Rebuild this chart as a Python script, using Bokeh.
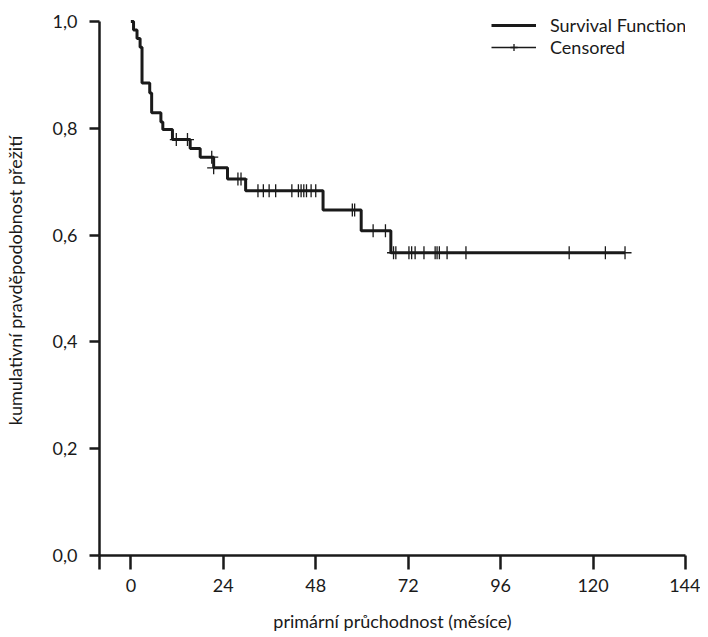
import numpy as np
from bokeh.plotting import figure
from bokeh.models import FixedTicker, Legend, LegendItem, ColumnDataSource, Range1d
from bokeh.embed import file_html
from bokeh.resources import INLINE

# ---- data (Kaplan-Meier curve) ----
event_times = [0.0, 0.7, 1.6, 2.4, 2.9, 4.9, 5.4, 7.8, 8.3, 10.8, 15.4, 18.0,
               21.5, 25.1, 29.8, 49.9, 59.8, 67.5]
survival = [1.0, 0.984, 0.968, 0.952, 0.885, 0.866, 0.829, 0.812, 0.798, 0.779,
            0.762, 0.746, 0.726, 0.705, 0.683, 0.647, 0.608, 0.567]
last_followup = 128.3
censored_times = [11.8, 14.7, 21.0, 21.5, 27.8, 28.6, 33.0, 34.4, 35.9, 37.6,
                  41.8, 43.5, 44.2, 44.9, 45.6, 46.8, 48.0, 57.5, 58.1, 62.9,
                  66.1, 68.2, 68.8, 72.2, 72.9, 73.8, 76.1, 79.0, 79.5, 80.1,
                  82.1, 87.0, 113.8, 123.2, 128.3]

x_ticks = [0, 24, 48, 72, 96, 120, 144]
y_ticks = [0.0, 0.2, 0.4, 0.6, 0.8, 1.0]
y_tick_labels = ["0,0", "0,2", "0,4", "0,6", "0,8", "1,0"]
x_label = "primární průchodnost (měsíce)"
y_label = "kumulativní pravděpodobnost přežití"
legend_labels = ["Survival Function", "Censored"]

# ---- styling ----
FONT = "Lato"
INK = "#1a1a1a"
X_START, X_END = -8.14, 144
Y_START, Y_END = 0.0, 1.03

step_src = ColumnDataSource(dict(t=event_times + [last_followup],
                                 s=survival + [survival[-1]]))
idx = np.searchsorted(np.array(event_times), np.array(censored_times), side="right") - 1
cens_src = ColumnDataSource(dict(t=censored_times, s=[survival[i] for i in idx]))

p = figure(width=700, height=635,
           x_range=Range1d(X_START, X_END), y_range=Range1d(Y_START, Y_END),
           output_backend="svg", toolbar_location=None,
           min_border_left=99, min_border_right=15, min_border_top=5,
           min_border_bottom=80)
p.grid.visible = False
p.outline_line_color = None
p.background_fill_color = "white"

step_r = p.step(x="t", y="s", source=step_src, mode="after",
                line_width=3, line_color=INK)
cens_r = p.scatter(x="t", y="s", source=cens_src, marker="cross", size=13,
                   line_width=1.3, line_color=INK)
# zero-length segments at the censored points: invisible in the plot,
# but give the "Censored" legend entry its thin horizontal line
cens_line = p.segment(x0="t", y0="s", x1="t", y1="s", source=cens_src,
                      line_width=1.3, line_color=INK, line_cap="butt")

# axes
p.xaxis.ticker = FixedTicker(ticks=[X_START] + x_ticks)
p.xaxis.major_label_overrides = {X_START: ""}
p.yaxis.ticker = FixedTicker(ticks=y_ticks)
p.yaxis.major_label_overrides = {t: l for t, l in zip(y_ticks, y_tick_labels)}
p.yaxis.bounds = (y_ticks[0], y_ticks[-1])
p.xaxis.axis_label = x_label
p.yaxis.axis_label = y_label
for ax in (p.xaxis, p.yaxis):
    ax.axis_line_width = 2.5
    ax.axis_line_color = INK
    ax.major_tick_line_width = 2.5
    ax.major_tick_line_color = INK
    ax.minor_tick_line_color = None
    ax.major_tick_in = 0
    ax.major_label_text_font = FONT
    ax.major_label_text_font_size = "18px"
    ax.major_label_text_color = INK
    ax.axis_label_text_font = FONT
    ax.axis_label_text_font_size = "18px"
    ax.axis_label_text_font_style = "normal"
    ax.axis_label_text_color = INK
p.xaxis.major_tick_out = 14
p.yaxis.major_tick_out = 10
p.xaxis.major_label_standoff = 9
p.yaxis.major_label_standoff = 12
p.xaxis.axis_label_standoff = 15
p.yaxis.axis_label_standoff = 24

legend = Legend(items=[LegendItem(label=legend_labels[0], renderers=[step_r]),
                       LegendItem(label=legend_labels[1], renderers=[cens_line, cens_r])],
                location=(392, 497.5), padding=0, margin=0, spacing=0,
                glyph_width=45, glyph_height=18, label_height=18, label_standoff=14,
                label_text_font=FONT, label_text_font_size="18px",
                label_text_color=INK, border_line_color=None,
                background_fill_alpha=0)
p.add_layout(legend)

open("out.html", "w").write(file_html(p, INLINE))
